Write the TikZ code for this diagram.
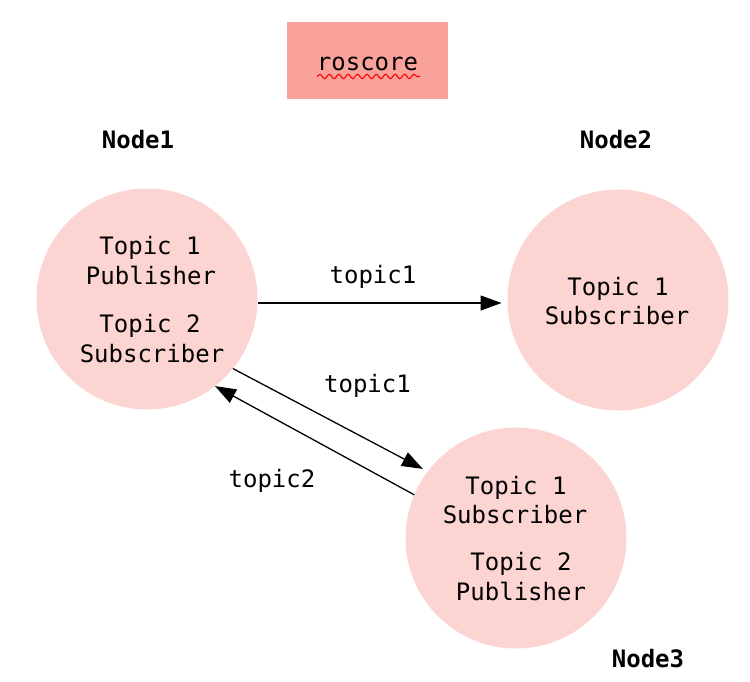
\documentclass[tikz,border=0pt]{standalone}
\usepackage{fontspec}
\setmainfont{DejaVu Sans Mono}
\usetikzlibrary{arrows.meta,decorations.pathmorphing}
\definecolor{circfill}{RGB}{252,213,211}
\definecolor{boxfill}{RGB}{249,162,156}
\tikzset{
  txt/.style={anchor=base, inner sep=0pt, font=\fontsize{24pt}{28pt}\selectfont},
  blabel/.style={txt, font=\fontsize{24pt}{28pt}\selectfont\bfseries},
  topicnode/.style={circle, fill=circfill, minimum size=221pt, inner sep=0pt, outer sep=0pt},
  arr/.style={line width=1.3pt, -{Triangle[length=21pt,width=15pt]}},
}
\begin{document}
\begin{tikzpicture}[x=1pt,y=-1pt]
\useasboundingbox[fill=white] (0,0) rectangle (750,681);
% roscore box
\node[fill=boxfill, minimum width=161pt, minimum height=77pt, inner sep=0pt] (ros) at (367.5,60.5) {};
\node[txt] (rostxt) at (367.5,70) {roscore};
\coordinate (wavyA) at (317,76.5);
\coordinate (wavyB) at (420,76.5);
\draw[red, line width=1.1pt, decorate, decoration={snake, segment length=9.4pt, amplitude=2.2pt}] (wavyA) -- (wavyB);
% node labels
\node[blabel] (n1) at (138,148) {Node1};
\node[blabel] (n2) at (616,148) {Node2};
\node[blabel] (n3) at (648,667) {Node3};
% circles
\node[topicnode] (c1) at (147,299) {};
\node[topicnode] (c2) at (618,300) {};
\node[topicnode] (c3) at (516,538) {};
% circle texts
\node[txt] (c1a) at (150,254) {Topic 1};
\node[txt] (c1b) at (151,284) {Publisher};
\node[txt] (c1c) at (150,332) {Topic 2};
\node[txt] (c1d) at (152,362) {Subscriber};
\node[txt] (c2a) at (618,295) {Topic 1};
\node[txt] (c2b) at (617,324) {Subscriber};
\node[txt] (c3a) at (516,494) {Topic 1};
\node[txt] (c3b) at (515,523) {Subscriber};
\node[txt] (c3c) at (521,570) {Topic 2};
\node[txt] (c3d) at (521,600) {Publisher};
% connectors
\draw[arr, shorten >=6pt] ([yshift=-4pt]c1.east) -- ([yshift=-3pt]c2.west);
\draw[arr, shorten >=5.5pt] (c1.-39) -- (c3.143);
\draw[arr] (c3.157) -- (c1.-52);
% edge labels
\node[txt] (l1) at (373,283) {topic1};
\node[txt] (l2) at (367.5,392) {topic1};
\node[txt] (l3) at (272,487) {topic2};
\end{tikzpicture}
\end{document}
